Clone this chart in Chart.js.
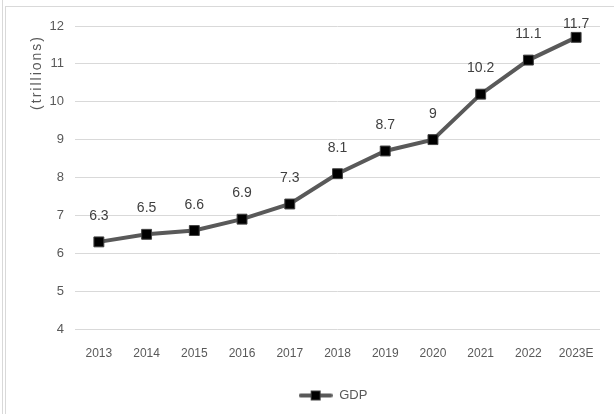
<!DOCTYPE html>
<html>
<head>
<meta charset="utf-8">
<script src="https://cdn.jsdelivr.net/npm/chart.js@4.4.1/dist/chart.umd.min.js"></script>
<style>
  html, body { margin: 0; padding: 0; background: #fff; }
  body { width: 614px; height: 414px; position: relative; overflow: hidden; }
  #outer { position: absolute; left: 2px; top: 0; width: 1px; height: 414px; background: #d9d9d9; }
  #frame { position: absolute; left: 5px; top: 6px; width: 609px; height: 408px;
           border-left: 1px solid #d9d9d9; border-top: 1px solid #d9d9d9; box-sizing: border-box; }
  #wrap { position: absolute; left: 6px; top: 7px; width: 608px; height: 407px; }
</style>
</head>
<body>
<div id="outer"></div>
<div id="frame"></div>
<div id="wrap"><canvas id="c"></canvas></div>
<script>
const categories = ['2013', '2014', '2015', '2016', '2017', '2018', '2019', '2020', '2021', '2022', '2023E'];
const gdpValues = [6.3, 6.5, 6.6, 6.9, 7.3, 8.1, 8.7, 9, 10.2, 11.1, 11.7];
const seriesName = 'GDP';
const yAxisTitle = '(trillions)';
const yMin = 4, yMax = 12, yStep = 1;

const FONT = "'Liberation Sans', Arial, sans-serif";

// legend symbol: line with square marker
const legendIcon = document.createElement('canvas');
legendIcon.width = 34; legendIcon.height = 12;
(function () {
  const g = legendIcon.getContext('2d');
  g.strokeStyle = '#595959'; g.lineWidth = 4; g.lineCap = 'round';
  g.beginPath(); g.moveTo(2, 6); g.lineTo(32, 6); g.stroke();
  g.fillStyle = '#000'; g.fillRect(12, 1, 10, 10);
  g.strokeStyle = '#404040'; g.lineWidth = 1; g.strokeRect(12.5, 1.5, 9, 9);
})();

const dataLabels = {
  id: 'dataLabels',
  afterDatasetsDraw(chart) {
    const ctx = chart.ctx;
    const meta = chart.getDatasetMeta(0);
    ctx.save();
    ctx.font = '14px ' + FONT;
    ctx.fillStyle = '#404040';
    ctx.textAlign = 'center';
    ctx.textBaseline = 'alphabetic';
    meta.data.forEach((pt, i) => {
      const v = chart.data.datasets[0].data[i];
      const y = Math.max(pt.y - 22, 21);
      ctx.fillText(String(v), pt.x, y);
    });
    ctx.restore();
  }
};

const tweaks = {
  id: 'tweaks',
  beforeDraw(chart) {
    const ys = chart.scales.y;
    if (!ys._wrappedTitle) {
      const orig = ys.drawTitle.bind(ys);
      ys.drawTitle = function () {
        const ctx = this.ctx;
        ctx.save();
        ctx.letterSpacing = '2px';
        ctx.translate(0, 9);
        orig();
        ctx.restore();
      };
      ys._wrappedTitle = true;
    }
  },
  afterLayout(chart) {
    const lg = chart.legend;
    if (lg) { lg.left += 30; lg.right += 30; }
  }
};

new Chart(document.getElementById('c'), {
  type: 'line',
  data: {
    labels: categories,
    datasets: [{
      label: seriesName,
      data: gdpValues,
      borderColor: '#595959',
      borderWidth: 4,
      backgroundColor: '#000000',
      pointStyle: 'rect',
      pointRadius: 7,
      pointBackgroundColor: '#000000',
      pointBorderColor: '#404040',
      pointBorderWidth: 1,
      tension: 0,
      fill: false
    }]
  },
  options: {
    responsive: true,
    maintainAspectRatio: false,
    animation: false,
    layout: { padding: { top: 19, right: 14, left: 0, bottom: 2 } },
    plugins: {
      legend: {
        position: 'bottom',
        labels: {
          usePointStyle: true,
          pointStyle: legendIcon,
          pointStyleWidth: 34,
          color: '#595959',
          font: { family: FONT, size: 13 },
          padding: 10
        }
      },
      tooltip: { enabled: false }
    },
    scales: {
      x: {
        offset: true,
        grid: { display: false, drawTicks: false },
        border: { display: false },
        ticks: { color: '#595959', font: { family: FONT, size: 12 }, padding: 17, maxRotation: 0, autoSkip: false },
        afterFit(s) { s.height = 50; }
      },
      y: {
        min: yMin, max: yMax,
        grid: { color: '#d9d9d9', drawTicks: false, lineWidth: 1 },
        border: { display: false },
        ticks: { stepSize: yStep, color: '#595959', font: { family: FONT, size: 13 }, padding: 11 },
        title: { display: true, text: yAxisTitle, align: 'end', color: '#595959',
                 font: { family: FONT, size: 14 }, padding: { top: 23, bottom: 0 } },
        afterFit(s) { s.width = 69; }
      }
    }
  },
  plugins: [dataLabels, tweaks]
});
</script>
</body>
</html>
